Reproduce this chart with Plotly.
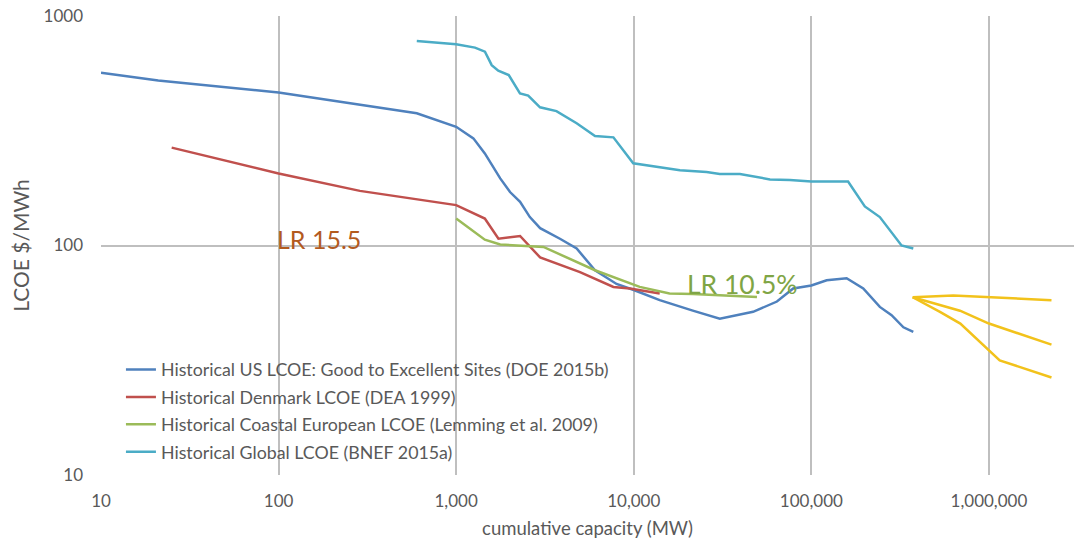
import plotly.graph_objects as go

# ---- data ----
us_x = [10, 21, 100, 600, 1000, 1250, 1450, 1770, 2010, 2290, 2600, 2970, 3840, 4770, 6050, 8000,
        10000, 14000, 21500, 30500, 47000, 64000, 79000, 100000, 122000, 158000, 196000, 243000,
        283000, 330000, 375000]
us_y = [566, 523, 464, 377, 329, 293, 252, 196, 171, 155, 133, 119, 107, 97, 78, 68,
        64, 57.8, 52, 48, 51.4, 57, 65, 67, 70.6, 72, 65, 54,
        49.7, 44, 42]

dk_x = [25, 100, 287, 625, 1000, 1450, 1730, 2290, 2970, 4980, 7680, 9520, 14000]
dk_y = [267, 206, 173, 158, 150, 131, 107, 110, 88.7, 76.6, 66, 65, 61.8]

eu_x = [1000, 1450, 1770, 2400, 3100, 6050, 10800, 15900, 21500, 49400]
eu_y = [131, 106, 101, 99.4, 98.6, 78, 66, 61.8, 61.4, 59.6]

gl_x = [600, 1000, 1276, 1452, 1585, 1726, 1977, 2287, 2545, 2966, 3670, 4768, 6050, 7680, 9930,
        14000, 18200, 25700, 30500, 39600, 58500, 75700, 100000, 161000, 200000, 243000, 322000, 375000]
gl_y = [778, 753, 728, 699, 611, 578, 553, 460, 450, 400, 385, 341, 300, 296, 228,
        220, 213, 209, 205, 205, 194, 193, 190, 190, 148, 133, 100, 97]

proj_hi_x = [372000, 630000, 2250000]
proj_hi_y = [59.5, 60.6, 57.8]
proj_mid_x = [372000, 687000, 1000000, 2250000]
proj_mid_y = [59.5, 52, 45.7, 37.0]
proj_lo_x = [372000, 530000, 690000, 1000000, 1150000, 2250000]
proj_lo_y = [59.5, 51.4, 45.7, 35, 31.6, 26.6]

x_tickvals = [10, 100, 1000, 10000, 100000, 1000000]
x_ticktext = ["10", "100", "1,000", "10,000", "100,000", "1,000,000"]
y_tickvals = [10, 100, 1000]
y_ticktext = ["10", "100", "1000"]

names = [
    "Historical US LCOE: Good to Excellent Sites (DOE 2015b)",
    "Historical Denmark LCOE (DEA 1999)",
    "Historical Coastal European LCOE (Lemming et al. 2009)",
    "Historical Global LCOE (BNEF 2015a)",
]
colors = ["#4F81BD", "#C0504D", "#9BBB59", "#4BACC6"]
proj_color = "#F2C21B"

FONT = "Lato"
GRAY = "#595959"

fig = go.Figure()
series = [(us_x, us_y), (dk_x, dk_y), (eu_x, eu_y), (gl_x, gl_y)]
for i, ((xs, ys), nm, c) in enumerate(zip(series, names, colors)):
    fig.add_trace(go.Scatter(x=xs, y=ys, mode="lines", name=nm,
                             line=dict(color=c, width=2.5), legendgroup=f"g{i}"))

for xs, ys in [(proj_hi_x, proj_hi_y), (proj_mid_x, proj_mid_y), (proj_lo_x, proj_lo_y)]:
    fig.add_trace(go.Scatter(x=xs, y=ys, mode="lines", showlegend=False,
                             line=dict(color=proj_color, width=2.5)))

fig.add_annotation(x=2.0, y=2.030, xref="x", yref="y", text="LR 15.5", showarrow=False,
                   xanchor="left", yanchor="middle", xshift=-4,
                   font=dict(family=FONT, size=25, color="#B35A1F"))
fig.add_annotation(x=4.305, y=1.832, xref="x", yref="y", text="LR 10.5%", showarrow=False,
                   xanchor="left", yanchor="middle", xshift=-3,
                   font=dict(family=FONT, size=26.5, color="#7FA545"))

fig.update_layout(
    width=1076, height=539,
    margin=dict(l=101, r=2, t=16, b=64),
    paper_bgcolor="white", plot_bgcolor="white",
    font=dict(family=FONT, color=GRAY, size=17),
    showlegend=True,
    legend=dict(x=0.0205, y=0.01, xanchor="left", yanchor="bottom",
                bgcolor="rgba(0,0,0,0)", font=dict(family=FONT, size=17.8, color=GRAY),
                tracegroupgap=1.3, itemwidth=30),
    xaxis=dict(type="log", range=[1, 6.479], tickvals=x_tickvals, ticktext=x_ticktext,
               showgrid=True, gridcolor="#BFBFBF", gridwidth=2.2, zeroline=False,
               showline=False, ticks="", tickfont=dict(size=17, color=GRAY),
               ticklabelstandoff=14,
               title=dict(text="cumulative capacity (MW)", font=dict(size=18.5, color=GRAY), standoff=13)),
    yaxis=dict(type="log", range=[1, 3], tickvals=y_tickvals, ticktext=y_ticktext,
               showgrid=True, gridcolor="#BFBFBF", gridwidth=2.2, zeroline=False,
               showline=False, ticks="", tickfont=dict(size=17, color=GRAY),
               ticklabelstandoff=17,
               title=dict(text="LCOE $/MWh", font=dict(size=21, color=GRAY), standoff=8)),
)

fig.write_html("out.html")
